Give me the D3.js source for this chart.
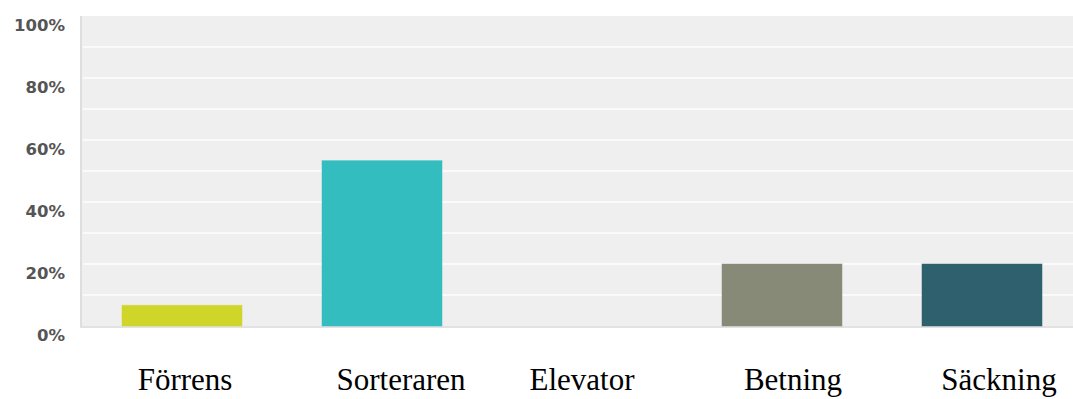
<!DOCTYPE html>
<html>
<head>
<meta charset="utf-8">
<script src="https://cdn.jsdelivr.net/npm/d3@7"></script>
<style>
  html, body { margin: 0; padding: 0; background: #fff; }
  svg { display: block; }
</style>
</head>
<body>
<svg id="chart" width="1073" height="399"></svg>
<script>
// Survey answers per stage, share of respondents (%)
const categories = ["Förrens", "Sorteraren", "Elevator", "Betning", "Säckning"];
const values = [6.67, 53.33, 0, 20, 20];
const barColors = ["#d0d52a", "#33bdbf", "#c0c0c0", "#888a78", "#2e606e"];
const tickValues = [0, 20, 40, 60, 80, 100];
const tickLabels = ["0%", "20%", "40%", "60%", "80%", "100%"];
const gridValues = [10, 20, 30, 40, 50, 60, 70, 80, 90];

// Small horizontal nudges for the category captions
const captionNudge = [3, 19, 0, 11, 17];

const width = 1073, height = 399;
const plot = { left: 81, right: 1073, top: 16, bottom: 326 };

const svg = d3.select("#chart");

const x = d3.scaleBand()
  .domain(categories)
  .range([82, 1082])
  .paddingInner(0.4)
  .paddingOuter(0.2);

const y = d3.scaleLinear()
  .domain([0, 100])
  .range([plot.bottom, plot.top]);

// Plot background
svg.append("rect")
  .attr("x", plot.left).attr("y", plot.top)
  .attr("width", plot.right - plot.left)
  .attr("height", plot.bottom - plot.top)
  .attr("fill", "#efefef");

// White grid lines
svg.append("g")
  .selectAll("line")
  .data(gridValues)
  .join("line")
  .attr("x1", plot.left + 2).attr("x2", plot.right)
  .attr("y1", d => y(d)).attr("y2", d => y(d))
  .attr("stroke", "#fafafa")
  .attr("stroke-width", 2);

// Frame: left and bottom edges
svg.append("rect")
  .attr("x", plot.left - 1).attr("y", plot.top)
  .attr("width", 2).attr("height", plot.bottom - plot.top + 2)
  .attr("fill", "#dedede");
svg.append("rect")
  .attr("x", plot.left - 1).attr("y", plot.bottom)
  .attr("width", plot.right - plot.left + 1).attr("height", 2)
  .attr("fill", "#e2e2e2");

// Bars
svg.append("g")
  .selectAll("rect")
  .data(categories.map((c, i) => ({ c, v: values[i], color: barColors[i] })))
  .join("rect")
  .attr("x", d => x(d.c))
  .attr("y", d => y(d.v))
  .attr("width", x.bandwidth())
  .attr("height", d => y(0) - y(d.v))
  .attr("fill", d => d.color)
  .attr("stroke", d => d.color)
  .attr("stroke-opacity", 0.5)
  .attr("stroke-width", 1);

// Y axis labels (sit just below their value line)
const yAxis = d3.axisLeft(y)
  .tickValues(tickValues)
  .tickFormat((d, i) => tickLabels[i])
  .tickSize(0)
  .tickPadding(0);

const yg = svg.append("g")
  .attr("transform", "translate(65,0)")
  .call(yAxis);
yg.select(".domain").remove();
yg.selectAll("text")
  .attr("dy", 14)
  .attr("fill", "#555")
  .style("font-family", "'DejaVu Sans', sans-serif")
  .style("font-weight", "bold")
  .style("font-size", "16.5px");

// Category captions
const xAxis = d3.axisBottom(x).tickSize(0).tickPadding(0);
const xg = svg.append("g")
  .attr("transform", "translate(0,390)")
  .call(xAxis);
xg.select(".domain").remove();
xg.selectAll(".tick text")
  .attr("dy", 0)
  .attr("y", 0)
  .attr("dx", (d, i) => captionNudge[i])
  .attr("fill", "#000")
  .style("font-family", "'Liberation Serif', 'Times New Roman', serif")
  .style("font-size", "31px");
</script>
</body>
</html>
